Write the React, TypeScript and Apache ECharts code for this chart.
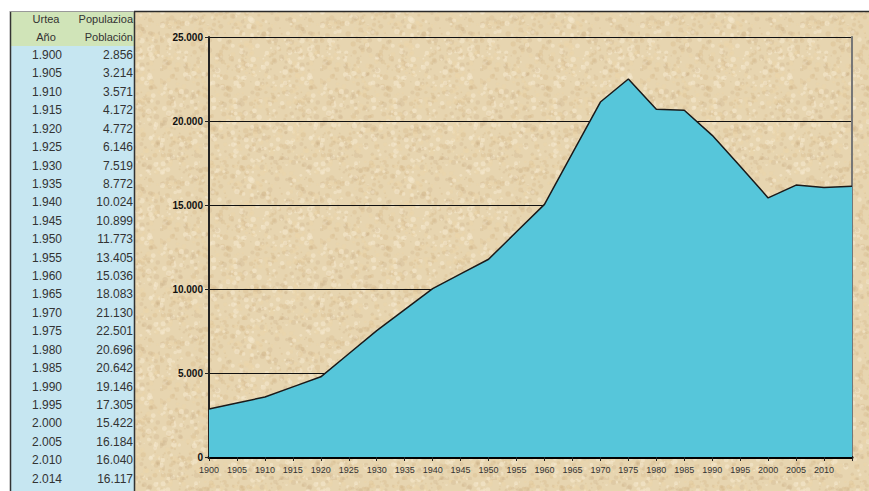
import React, { useEffect, useRef } from "react";
import * as echarts from "echarts";

const years = [1900, 1905, 1910, 1915, 1920, 1925, 1930, 1935, 1940, 1945, 1950, 1955, 1960, 1965, 1970, 1975, 1980, 1985, 1990, 1995, 2000, 2005, 2010, 2014];
const population = [2856, 3214, 3571, 4172, 4772, 6146, 7519, 8772, 10024, 10899, 11773, 13405, 15036, 18083, 21130, 22501, 20696, 20642, 19146, 17305, 15422, 16184, 16040, 16117];
const headerYear = ["Urtea", "Año"];
const headerPop = ["Populazioa", "Población"];
const yTicks = { min: 0, max: 25000, interval: 5000 };

const fmt = (n: number) => String(n).replace(/\B(?=(\d{3})+(?!\d))/g, ".");

function makeTexture(): HTMLCanvasElement {
  const c = document.createElement("canvas");
  c.width = 160;
  c.height = 160;
  const g = c.getContext("2d")!;
  g.fillStyle = "#e7d5b0";
  g.fillRect(0, 0, 160, 160);
  let s = 12345;
  const rnd = () => {
    s = (s * 16807) % 2147483647;
    return s / 2147483647;
  };
  const cols = ["rgba(245,234,208,0.55)", "rgba(214,186,140,0.35)", "rgba(236,214,170,0.5)", "rgba(200,170,130,0.25)"];
  for (let i = 0; i < 1400; i++) {
    g.fillStyle = cols[i % cols.length];
    const r = 0.6 + rnd() * 2.2;
    g.beginPath();
    g.arc(rnd() * 160, rnd() * 160, r, 0, Math.PI * 2);
    g.fill();
  }
  return c;
}

export default function App() {
  const ref = useRef<HTMLDivElement>(null);
  useEffect(() => {
    if (!ref.current) return;
    const chart = echarts.init(ref.current, undefined, { renderer: "svg" });
    const font = "Liberation Sans, Arial, sans-serif";
    const rowH = 18.42;
    const rowY0 = 55;
    let bgFill: any = "#e7d5b0";
    try {
      bgFill = { image: makeTexture().toDataURL(), repeat: "repeat" };
    } catch (e) {
      bgFill = "#e7d5b0";
    }
    const tableEls: any[] = [
      { type: "rect", shape: { x: 134, y: 11, width: 735, height: 480 }, style: { fill: "#e7d5b0" }, z: -11, silent: true },
      { type: "rect", shape: { x: 134, y: 11, width: 735, height: 480 }, style: { fill: bgFill }, z: -10, silent: true },
      { type: "line", shape: { x1: 134, y1: 11.5, x2: 869, y2: 11.5 }, style: { stroke: "#2a2a2a", lineWidth: 1.5 }, z: -9 },
      { type: "rect", shape: { x: 10, y: 11, width: 124, height: 35 }, style: { fill: "#d0e4b8" }, z: -10 },
      { type: "rect", shape: { x: 10, y: 46, width: 124, height: 445 }, style: { fill: "#c6e6f1" }, z: -10 },
      { type: "line", shape: { x1: 10.5, y1: 11, x2: 10.5, y2: 491 }, style: { stroke: "#333", lineWidth: 1.5 }, z: -9 },
      { type: "line", shape: { x1: 134.5, y1: 11, x2: 134.5, y2: 491 }, style: { stroke: "#333", lineWidth: 1.5 }, z: -9 },
      { type: "line", shape: { x1: 10, y1: 11.5, x2: 134, y2: 11.5 }, style: { stroke: "#999", lineWidth: 1 }, z: -9 },
    ];
    headerYear.forEach((t, i) => {
      tableEls.push({ type: "text", x: 46, y: 19 + i * 17.5, style: { text: t, fill: "#333", font: `11px ${font}`, textAlign: "center", textVerticalAlign: "middle" }, z: -8 });
    });
    headerPop.forEach((t, i) => {
      tableEls.push({ type: "text", x: 133, y: 19 + i * 17.5, style: { text: t, fill: "#333", font: `11px ${font}`, textAlign: "right", textVerticalAlign: "middle" }, z: -8 });
    });
    years.forEach((yv, i) => {
      tableEls.push({ type: "text", x: 47, y: rowY0 + i * rowH, style: { text: fmt(yv), fill: "#333", font: `12px ${font}`, textAlign: "center", textVerticalAlign: "middle" }, z: -8 });
      tableEls.push({ type: "text", x: 133, y: rowY0 + i * rowH, style: { text: fmt(population[i]), fill: "#333", font: `12px ${font}`, textAlign: "right", textVerticalAlign: "middle" }, z: -8 });
    });

    chart.setOption({
      animation: false,
      backgroundColor: "#ffffff",
      graphic: tableEls,
      grid: { left: 209, right: 17, top: 37, bottom: 34, containLabel: false },
      xAxis: {
        type: "category",
        data: years.map(String),
        boundaryGap: false,
        axisLine: { show: true, lineStyle: { color: "#000", width: 3 } },
        axisTick: { show: true, inside: false, length: 4, lineStyle: { color: "#222", width: 1 }, interval: 0 },
        axisLabel: {
          interval: 0,
          color: "#333",
          fontFamily: font,
          fontSize: 9,
          margin: 8,
          formatter: (v: string, idx: number) => (idx === years.length - 1 ? "" : v),
        },
        splitLine: { show: false },
      },
      yAxis: [
        {
          type: "value",
          min: yTicks.min,
          max: yTicks.max,
          interval: yTicks.interval,
          axisLine: { show: true, lineStyle: { color: "#222", width: 2 } },
          axisTick: { show: true, length: 4, lineStyle: { color: "#222", width: 1 } },
          axisLabel: { color: "#111", fontWeight: "bold", fontFamily: font, fontSize: 10, margin: 6, formatter: (v: number) => fmt(v) },
          splitLine: { show: true, lineStyle: { color: "#111", width: 1 } },
        },
        {
          type: "value",
          position: "right",
          min: yTicks.min,
          max: yTicks.max,
          interval: yTicks.interval,
          axisLine: { show: true, lineStyle: { color: "#777", width: 2 } },
          axisTick: { show: false },
          axisLabel: { show: false },
          splitLine: { show: false },
        },
      ],
      series: [
        {
          type: "line",
          data: population,
          symbol: "none",
          lineStyle: { color: "#1a1a1a", width: 1.5 },
          areaStyle: { color: "#56c6da", opacity: 1 },
          z: 3,
        },
      ],
    });
    return () => chart.dispose();
  }, []);
  return <div ref={ref} style={{ position: "fixed", left: 0, top: 0, width: 869, height: 491 }} />;
}
